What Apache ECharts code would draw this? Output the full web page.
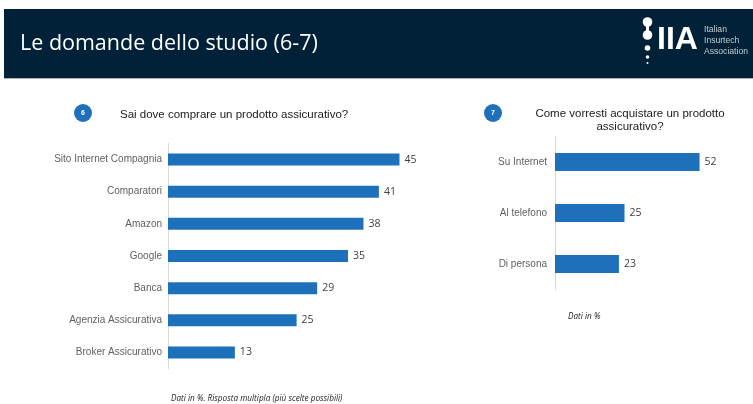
<!DOCTYPE html>
<html>
<head>
<meta charset="utf-8">
<style>html,body{margin:0;padding:0;background:#fff}#c{width:753px;height:404px}</style>
<script src="https://cdn.jsdelivr.net/npm/echarts@6/dist/echarts.min.js"></script>
</head>
<body>
<div id="c"></div>
<script>
const pageTitle = 'Le domande dello studio (6-7)';
const question6 = 'Sai dove comprare un prodotto assicurativo?';
const question7 = 'Come vorresti acquistare un prodotto\nassicurativo?';
const note6 = 'Dati in %. Risposta multipla (più scelte possibili)';
const note7 = 'Dati in %';
const channels6 = ['Sito Internet Compagnia','Comparatori','Amazon','Google','Banca','Agenzia Assicurativa','Broker Assicurativo'];
const values6 = [45,41,38,35,29,25,13];
const channels7 = ['Su Internet','Al telefono','Di persona'];
const values7 = [52,25,23];
const logoLines = ['Italian','Insurtech','Association'];

const navy = '#012138', blue = '#1f70bb', labelGrey = '#5f5f5f';

function yAxis(grid, data, margin){
  return {gridIndex:grid,type:'category',inverse:true,data,
    axisLine:{show:true,lineStyle:{color:'#d9d9d9',width:1}},
    axisTick:{show:false},
    axisLabel:{color:labelGrey,fontFamily:'Liberation Sans',fontSize:10,margin}};
}
function xAxis(grid,max){
  return {gridIndex:grid,type:'value',min:0,max,show:false,splitLine:{show:false}};
}
function bars(i,data,w){
  return {type:'bar',xAxisIndex:i,yAxisIndex:i,data,barWidth:w,
    itemStyle:{color:blue},
    label:{show:true,position:'right',distance:5,color:'#404040',fontFamily:'Open Sans',fontSize:10.5},
    silent:true};
}
function text(x,y,t,o){
  return {type:'text',x,y,silent:true,style:Object.assign({text:t,fontFamily:'Liberation Sans',fill:'#1a1a1a',verticalAlign:'middle'},o)};
}
function badge(x,y,n){
  return [
    {type:'circle',shape:{cx:x,cy:y,r:9},style:{fill:blue},silent:true},
    text(x,y,n,{fill:'#fff',fontSize:7,fontWeight:'bold',align:'center'})
  ];
}

const chart = echarts.init(document.getElementById('c'),null,{renderer:'canvas'});
chart.setOption({
  animation:false,
  backgroundColor:'#fff',
  grid:[
    {left:168,top:143.5,width:257.2,height:225},
    {left:555,top:136.5,width:166.8,height:153}
  ],
  xAxis:[xAxis(0,50),xAxis(1,60)],
  yAxis:[yAxis(0,channels6,6),yAxis(1,channels7,8)],
  series:[bars(0,values6,12),bars(1,values7,18)],
  graphic:[
    {type:'rect',shape:{x:4,y:9,width:749,height:69},style:{fill:navy},silent:true},
    {type:'rect',shape:{x:4,y:78,width:749,height:1},style:{fill:'#a9b3ba'},silent:true},
    text(20,44,pageTitle,{fill:'#fff',fontFamily:'Open Sans',fontSize:21.5}),
    {type:'circle',shape:{cx:647.5,cy:22,r:4.8},style:{fill:'#fff'},silent:true},
    {type:'circle',shape:{cx:647.5,cy:35,r:4.8},style:{fill:'#fff'},silent:true},
    {type:'rect',shape:{x:646,y:24,width:3,height:10},style:{fill:'#fff'},silent:true},
    {type:'circle',shape:{cx:647.5,cy:48,r:2.8},style:{fill:'#fff'},silent:true},
    {type:'circle',shape:{cx:647.5,cy:57,r:1.8},style:{fill:'#fff'},silent:true},
    {type:'circle',shape:{cx:647.5,cy:63,r:1},style:{fill:'#fff'},silent:true},
    text(657,40,'IIA',{fill:'#fff',fontFamily:'Liberation Sans',fontWeight:'bold',fontSize:32}),
    text(704,29.5,logoLines[0],{fill:'#c3ccd3',fontSize:8.6}),
    text(704,40.5,logoLines[1],{fill:'#c3ccd3',fontSize:8.6}),
    text(704,51.5,logoLines[2],{fill:'#c3ccd3',fontSize:8.6}),
    ...badge(83,113,'6'),
    ...badge(493,113,'7'),
    text(120,115,question6,{fontSize:11.5}),
    text(630,120,question7,{fontSize:11.5,align:'center',lineHeight:13}),
    text(171,399,note6,{fontFamily:'Open Sans',fontStyle:'italic',fontSize:8.2,fill:'#222'}),
    text(568,317,note7,{fontFamily:'Open Sans',fontStyle:'italic',fontSize:8.2,fill:'#222'})
  ]
});
</script>
</body>
</html>
